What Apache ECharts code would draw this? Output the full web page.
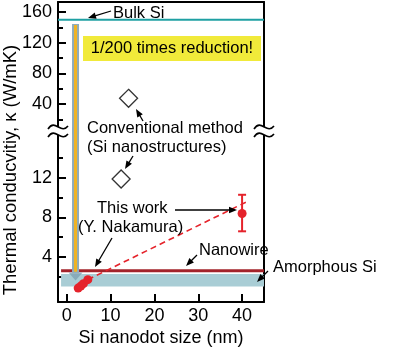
<!DOCTYPE html>
<html>
<head>
  <meta charset="utf-8">
  <title>Si nanodot thermal conductivity</title>
  <script src="https://fastly.jsdelivr.net/npm/echarts@6/dist/echarts.min.js"></script>
</head>
<body style="margin:0;background:#fff">
<div id="main" style="width:394px;height:352px;"></div>
<script type="text/javascript">
  // axis ticks / labels
  const xTicks = [0, 10, 20, 30, 40];
  const yUpperTicks = [40, 80, 120, 160];
  const yUpperMinor = [20, 60, 100, 140];
  const yLowerTicks = [4, 8, 12];
  const yLowerMinor = [2, 6, 10, 14];

  // reference levels
  const bulkSi = 150;
  const nanowire = 2.6;
  const amorphous = [1.01, 2.28];
  const bandStartX = -1.3;

  // conventional method (Si nanostructures)
  const convUpper = [[14.1, 47.4]];
  const convLower = [[12.4, 11.9]];

  // this work
  const thisWorkSmall = [[2.6, 0.85], [3.2, 1.05], [3.8, 1.3], [4.8, 1.7]];
  const thisWorkLarge = [[40, 8.4]];
  const errBars = [[40, 6.6, 10.3]];
  const fitLine = [[4.8, 1.7], [41.1, 9.6]];

  // reduction arrow
  const arrowX = 2;
  const arrowTop = 144.3;
  const arrowHeadBase = 2.4;
  const arrowHeadMid = 2.02;

  const xMin = -2, xMax = 45;
  const upMin = 4.8, upMax = 173;
  const loMin = -0.56, loMax = 16.76;

  const FONT = 'Liberation Sans, Arial, sans-serif';
  const red = '#e5232b';

  var chart = echarts.init(document.getElementById('main'));

  function frameAxis(grid, pos) {
    return {
      gridIndex: grid, position: pos, type: 'value',
      min: pos === 'top' || pos === 'bottom' ? xMin : (grid === 0 ? upMin : loMin),
      max: pos === 'top' || pos === 'bottom' ? xMax : (grid === 0 ? upMax : loMax),
      axisLine: {show: true, onZero: false, lineStyle: {color: '#000', width: 2}},
      axisTick: {show: false}, axisLabel: {show: false}, splitLine: {show: false}
    };
  }
  function tickAxis(grid, min, max, ticks, len, labels) {
    return {
      gridIndex: grid, position: 'left', type: 'value', min: min, max: max,
      axisLine: {show: labels, onZero: false, lineStyle: {color: '#000', width: 2}},
      axisTick: {show: true, inside: true, length: len, customValues: ticks, lineStyle: {color: '#000', width: 2}},
      axisLabel: {show: labels, customValues: ticks, fontSize: 18, color: '#000', margin: 6, fontFamily: FONT},
      splitLine: {show: false}
    };
  }

  function arrow(x1, y1, x2, y2) {
    const a = Math.atan2(y2 - y1, x2 - x1), L = 8, W = 3.2;
    const c = Math.cos(a), s = Math.sin(a);
    return [
      {type: 'line', shape: {x1: x1, y1: y1, x2: x2 - c * L * 0.8, y2: y2 - s * L * 0.8},
        style: {stroke: '#000', lineWidth: 1.3}, z: 100},
      {type: 'polygon', shape: {points: [[x2, y2], [x2 - L * c + W * s, y2 - L * s - W * c], [x2 - L * c - W * s, y2 - L * s + W * c]]},
        style: {fill: '#000'}, z: 100}
    ];
  }
  function label(text, x, y, size) {
    return {type: 'text', x: x, y: y, z: 100,
      style: {text: text, font: (size || 16.5) + 'px ' + FONT, fill: '#000', verticalAlign: 'middle', textVerticalAlign: 'middle'}};
  }
  function breakMark(x, y) {
    const wave = (dy) => ({type: 'bezierCurve', z: 101,
      shape: {x1: x - 10, y1: y + dy + 2, x2: x + 10, y2: y + dy - 1, cpx1: x - 3, cpy1: y + dy - 9, cpx2: x + 3, cpy2: y + dy + 8},
      style: {stroke: '#000', lineWidth: 1.6, fill: null}});
    return [
      {type: 'rect', z: 100, shape: {x: x - 4, y: y - 4, width: 8, height: 8}, style: {fill: '#fff'}},
      wave(-4), wave(4)
    ];
  }

  var graphics = [].concat(
    breakMark(58, 131), breakMark(264, 131),
    [{type: 'text', x: 11, y: 170, rotation: Math.PI / 2, z: 100,
      style: {text: 'Thermal conducvitiy, κ (W/mK)', font: '18.5px ' + FONT, fill: '#000',
        align: 'center', verticalAlign: 'middle', textAlign: 'center', textVerticalAlign: 'middle'}}],
    [{type: 'rect', z: 90, shape: {x: 83, y: 36, width: 178, height: 25}, style: {fill: '#f1ea3a'}},
     {type: 'text', x: 172, y: 48.5, z: 100,
      style: {text: '1/200 times reduction!', font: '16.5px ' + FONT, fill: '#000',
        align: 'center', verticalAlign: 'middle', textAlign: 'center', textVerticalAlign: 'middle'}}],
    [label('Bulk Si', 113, 13)], arrow(111, 11, 88, 18),
    [label('Conventional method', 87, 128), label('(Si nanostructures)', 87, 147)],
    arrow(143, 121, 136, 109), arrow(133, 156, 125, 169),
    [label('This work', 97, 208), label('(Y. Nakamura)', 78, 227)],
    arrow(175, 210, 237, 210), arrow(112, 238, 95, 267),
    [label('Nanowire', 199, 250)], arrow(197, 255, 186, 266),
    [label('Amorphous Si', 273, 267)], arrow(268, 271, 257, 282)
  );

  var option = {
    animation: false,
    grid: [
      {left: 58, right: 130, top: 2, height: 129},
      {left: 58, right: 130, top: 131, height: 171}
    ],
    xAxis: [
      frameAxis(0, 'top'),
      {
        gridIndex: 1, position: 'bottom', type: 'value', min: xMin, max: xMax,
        axisLine: {show: true, onZero: false, lineStyle: {color: '#000', width: 2}},
        axisTick: {show: true, inside: true, length: 8, customValues: xTicks, lineStyle: {color: '#000', width: 2}},
        axisLabel: {customValues: xTicks, fontSize: 18, color: '#000', margin: 5, fontFamily: FONT},
        splitLine: {show: false},
        name: 'Si nanodot size (nm)', nameLocation: 'middle', nameGap: 27,
        nameTextStyle: {fontSize: 18, color: '#000', fontFamily: FONT}
      }
    ],
    yAxis: [
      tickAxis(0, upMin, upMax, yUpperTicks, 8, true),
      tickAxis(0, upMin, upMax, yUpperMinor, 5, false),
      frameAxis(0, 'right'),
      tickAxis(1, loMin, loMax, yLowerTicks, 8, true),
      tickAxis(1, loMin, loMax, yLowerMinor, 5, false),
      frameAxis(1, 'right')
    ],
    graphic: graphics,
    series: [
      {
        name: 'Bulk Si', type: 'line', xAxisIndex: 0, yAxisIndex: 0, symbol: 'none', z: 3,
        lineStyle: {color: '#1fa0a3', width: 2},
        data: [[xMin, bulkSi], [xMax, bulkSi]]
      },
      {
        name: 'Nanowire', type: 'line', xAxisIndex: 1, yAxisIndex: 3, symbol: 'none', z: 3,
        lineStyle: {color: '#a3232a', width: 3},
        data: [[bandStartX, nanowire], [xMax, nanowire]],
        markArea: {
          silent: true,
          itemStyle: {color: '#a9cdd5'},
          data: [[{coord: [bandStartX, amorphous[0]]}, {coord: [xMax, amorphous[1]]}]]
        }
      },
      // reduction arrow shaft (upper part)
      {
        type: 'line', xAxisIndex: 0, yAxisIndex: 0, symbol: 'none', z: 4,
        lineStyle: {color: '#8eacbb', width: 7},
        data: [[arrowX, arrowTop], [arrowX, 0]]
      },
      {
        type: 'line', xAxisIndex: 0, yAxisIndex: 0, symbol: 'none', z: 5,
        lineStyle: {color: '#f0b323', width: 3},
        data: [[arrowX, arrowTop - 1.3], [arrowX, 0]]
      },
      // reduction arrow shaft (lower part)
      {
        type: 'line', xAxisIndex: 1, yAxisIndex: 3, symbol: 'none', z: 4,
        lineStyle: {color: '#8eacbb', width: 7},
        data: [[arrowX, loMax + 1], [arrowX, arrowHeadBase]]
      },
      {
        type: 'line', xAxisIndex: 1, yAxisIndex: 3, symbol: 'none', z: 5,
        lineStyle: {color: '#f0b323', width: 3},
        data: [[arrowX, loMax + 1], [arrowX, arrowHeadBase + 0.1]]
      },
      {
        type: 'scatter', xAxisIndex: 1, yAxisIndex: 3, z: 5,
        symbol: 'path://M0,0 L10,0 L5,7 Z', symbolSize: [14, 8],
        itemStyle: {color: '#7fa2b3'},
        data: [[arrowX, arrowHeadMid]]
      },
      // conventional method
      {
        type: 'scatter', xAxisIndex: 0, yAxisIndex: 0, symbol: 'diamond', symbolSize: 18, z: 6,
        itemStyle: {color: '#fff', borderColor: '#000', borderWidth: 1.3},
        data: convUpper
      },
      {
        type: 'scatter', xAxisIndex: 1, yAxisIndex: 3, symbol: 'diamond', symbolSize: 18, z: 6,
        itemStyle: {color: '#fff', borderColor: '#000', borderWidth: 1.3},
        data: convLower
      },
      // this work
      {
        type: 'line', xAxisIndex: 1, yAxisIndex: 3, symbol: 'none', z: 6,
        lineStyle: {color: red, width: 1.6, type: [6, 4]},
        data: fitLine
      },
      {
        type: 'custom', xAxisIndex: 1, yAxisIndex: 3, z: 7,
        renderItem: function (params, api) {
          const lo = api.coord([api.value(0), api.value(1)]);
          const hi = api.coord([api.value(0), api.value(2)]);
          const st = {stroke: red, lineWidth: 2};
          return {
            type: 'group', children: [
              {type: 'line', shape: {x1: lo[0], y1: lo[1], x2: hi[0], y2: hi[1]}, style: st},
              {type: 'line', shape: {x1: lo[0] - 4, y1: lo[1], x2: lo[0] + 4, y2: lo[1]}, style: st},
              {type: 'line', shape: {x1: hi[0] - 4, y1: hi[1], x2: hi[0] + 4, y2: hi[1]}, style: st}
            ]
          };
        },
        data: errBars
      },
      {
        type: 'scatter', xAxisIndex: 1, yAxisIndex: 3, symbolSize: 9, z: 8,
        itemStyle: {color: red, opacity: 1},
        data: thisWorkLarge
      },
      {
        type: 'scatter', xAxisIndex: 1, yAxisIndex: 3, symbolSize: 9, z: 8,
        itemStyle: {color: red, opacity: 1},
        data: thisWorkSmall
      }
    ]
  };

  chart.setOption(option);
</script>
</body>
</html>
